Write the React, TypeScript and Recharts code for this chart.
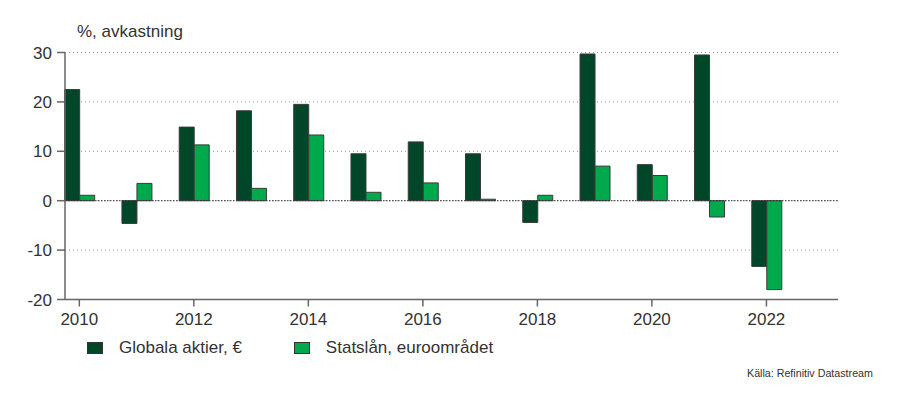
import { BarChart, Bar, XAxis, YAxis, CartesianGrid, ReferenceLine } from "recharts"

const years = [2010, 2011, 2012, 2013, 2014, 2015, 2016, 2017, 2018, 2019, 2020, 2021, 2022]
const globalaAktier = [22.5, -4.6, 14.9, 18.2, 19.5, 9.5, 11.9, 9.5, -4.4, 29.7, 7.3, 29.5, -13.3]
const statslan = [1.1, 3.5, 11.3, 2.5, 13.3, 1.7, 3.6, 0.3, 1.1, 7.0, 5.1, -3.3, -18.0]
const xTicks = [2010, 2012, 2014, 2016, 2018, 2020, 2022]
const yTicks = [-20, -10, 0, 10, 20, 30]

const data = years.map((year, i) => ({
  year,
  aktier: globalaAktier[i],
  statslan: statslan[i],
}))

const DARK = "#00472a"
const LIGHT = "#00aa4c"
const FONT = "'Liberation Sans', Arial, sans-serif"

function LegendItem({ color, label }: { color: string; label: string }) {
  return (
    <div style={{ display: "flex", alignItems: "center" }}>
      <div
        style={{
          width: 14,
          height: 10,
          background: color,
          border: "1px solid #333",
          marginRight: 16,
        }}
      />
      <span>{label}</span>
    </div>
  )
}

export default function App() {
  return (
    <div
      style={{
        position: "absolute",
        left: 0,
        top: 0,
        width: 899,
        height: 396,
        background: "#fff",
        fontFamily: FONT,
        color: "#333",
      }}
    >
      <div style={{ position: "absolute", left: 77, top: 22, fontSize: 17, lineHeight: "20px" }}>
        {"%, avkastning"}
      </div>

      <BarChart
        width={899}
        height={396}
        data={data}
        margin={{ top: 52.5, right: 61, bottom: 66.5, left: 0 }}
        barGap={0}
        barSize={15}
      >
        <CartesianGrid
          horizontal
          vertical={false}
          stroke="#999"
          strokeDasharray="1 3"
        />
        <XAxis
          dataKey="year"
          type="number"
          domain={[2009.75, 2023.25]}
          ticks={xTicks}
          interval={0}
          height={30}
          tickSize={7}
          tickMargin={6}
          stroke="#666"
          strokeWidth={1.5}
          tick={{ fill: "#333", fontSize: 17, fontFamily: FONT }}
        />
        <YAxis
          type="number"
          domain={[-20, 30]}
          ticks={yTicks}
          interval={0}
          width={65}
          tickSize={8}
          tickMargin={5}
          stroke="#666"
          strokeWidth={1.5}
          tick={{ fill: "#333", fontSize: 17, fontFamily: FONT }}
        />
        <ReferenceLine y={0} stroke="#333" strokeDasharray="1.5 1.5" />
        <Bar dataKey="aktier" fill={DARK} stroke="#3a3a3a" strokeWidth={1} isAnimationActive={false} />
        <Bar dataKey="statslan" fill={LIGHT} stroke="#3a3a3a" strokeWidth={1} isAnimationActive={false} />
      </BarChart>

      <div
        style={{
          position: "absolute",
          left: 87,
          top: 338,
          display: "flex",
          gap: 52,
          fontSize: 17,
          lineHeight: "20px",
        }}
      >
        <LegendItem color={DARK} label="Globala aktier, €" />
        <LegendItem color={LIGHT} label="Statslån, euroområdet" />
      </div>

      <div style={{ position: "absolute", left: 747, top: 367, fontSize: 10.7, lineHeight: "12px" }}>
        {"Källa: Refinitiv Datastream"}
      </div>
    </div>
  )
}
